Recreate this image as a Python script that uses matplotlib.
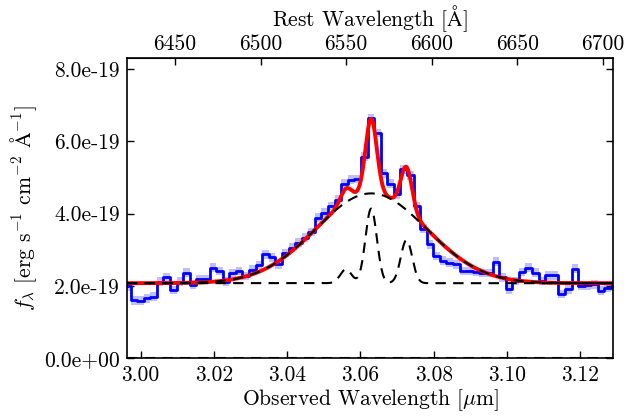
import numpy as np
import matplotlib
matplotlib.use("Agg")
import matplotlib.pyplot as plt
from matplotlib.ticker import FormatStrFormatter

plt.rcParams.update({
    "font.family": "serif",
    "font.serif": ["cmr10"],
    "mathtext.fontset": "cm",
    "axes.unicode_minus": False,
    "axes.formatter.use_mathtext": True,
    "font.size": 15.5,
})

# redshift (1+z) from the two wavelength axes
zred = 3.6658

# observed spectrum, bin centres in micron, flux in 1e-19 erg/s/cm2/A
wave = [2.99637, 2.99817, 2.99996, 3.00176, 3.00355, 3.00535, 3.00715, 3.00894,
        3.01074, 3.01253, 3.01433, 3.01613, 3.01792, 3.01972, 3.02151, 3.02331,
        3.02510, 3.02690, 3.02870, 3.03049, 3.03229, 3.03408, 3.03588, 3.03768,
        3.03947, 3.04127, 3.04306, 3.04486, 3.04666, 3.04845, 3.05025, 3.05204,
        3.05384, 3.05563, 3.05743, 3.05923, 3.06102, 3.06282, 3.06461, 3.06641,
        3.06821, 3.07000, 3.07180, 3.07359, 3.07539, 3.07719, 3.07898, 3.08078,
        3.08257, 3.08437, 3.08616, 3.08796, 3.08976, 3.09155, 3.09335, 3.09514,
        3.09694, 3.09874, 3.10053, 3.10233, 3.10412, 3.10592, 3.10772, 3.10951,
        3.11131, 3.11310, 3.11490, 3.11669, 3.11849, 3.12029, 3.12208, 3.12388,
        3.12567, 3.12747, 3.12927]
flux = [1.99, 1.61, 1.60, 1.66, 1.71, 2.12, 2.24, 1.89, 2.12, 2.37, 2.04, 2.19,
        2.19, 2.51, 2.42, 2.12, 2.36, 2.42, 2.28, 2.45, 2.58, 2.88, 2.79, 2.60,
        2.91, 3.06, 3.20, 3.34, 3.49, 3.89, 4.03, 4.21, 4.39, 4.83, 4.94, 4.96,
        5.57, 6.64, 6.23, 5.11, 4.83, 4.53, 5.22, 5.06, 4.21, 3.59, 3.15, 2.83,
        2.70, 2.65, 2.60, 2.42, 2.42, 2.39, 2.36, 2.36, 2.67, 2.24, 1.91, 2.14,
        2.39, 2.51, 2.37, 2.14, 2.30, 2.30, 1.78, 1.91, 2.48, 2.01, 2.02, 2.05,
        1.87, 1.96, 1.99]
flux_err = 0.12

# fitted model: continuum, broad Halpha, narrow [NII]6550, Halpha, [NII]6585
cont_level = 2.08
broad_center = 6564.61   # rest frame, A
broad_amp = 2.48
broad_sigma = 32.3
narrow_centers = [6549.86, 6564.61, 6585.27]
narrow_amps = [0.38, 2.06, 1.19]
narrow_sigma = 3.32

scale = 1e-19
wave = np.array(wave)
flux = np.array(flux) * scale

# model on a fine grid (rest frame)
lam_rest = np.linspace(6400, 6720, 2000)
lam_obs = lam_rest * (1 + zred) / 1e4
broad = broad_amp * np.exp(-0.5 * ((lam_rest - broad_center) / broad_sigma) ** 2)
narrow = np.zeros_like(lam_rest)
for c, a in zip(narrow_centers, narrow_amps):
    narrow += a * np.exp(-0.5 * ((lam_rest - c) / narrow_sigma) ** 2)
total = (cont_level + broad + narrow) * scale
cont_broad = (cont_level + broad) * scale
cont_narrow = (cont_level + narrow) * scale

fig, ax = plt.subplots(figsize=(6.36, 4.17), dpi=100)
fig.subplots_adjust(left=0.1997, right=0.9638, bottom=0.1403, top=0.861)

ax.fill_between(wave, flux - flux_err * scale, flux + flux_err * scale,
                step="mid", color="blue", alpha=0.25, lw=0)
ax.step(wave, flux, where="mid", color="blue", lw=2.0)
ax.plot(lam_obs, total, color="red", lw=2.8)
dash = (5, 3.5)
ax.plot(lam_obs, cont_broad, color="black", ls="--", dashes=dash, lw=1.5)
ax.plot(lam_obs, cont_narrow, color="black", ls="--", dashes=dash, lw=1.5)
ax.axhline(0, color="black", ls="--", dashes=dash, lw=1.5)

ax.set_xlim(2.9963, 3.1289)
ax.set_ylim(0, 8.3e-19)
ax.set_xticks([3.00, 3.02, 3.04, 3.06, 3.08, 3.10, 3.12])
ax.xaxis.set_major_formatter(FormatStrFormatter("%.2f"))
ax.set_yticks([0, 2e-19, 4e-19, 6e-19, 8e-19])
ax.yaxis.set_major_formatter(FormatStrFormatter("%.1e"))
ax.tick_params(direction="in", length=5, width=1, right=True, pad=5)
for s in ax.spines.values():
    s.set_linewidth(1.2)

ax.set_xlabel(r"Observed Wavelength [$\mu$m]", labelpad=2)
ax.set_ylabel(r"$f_\lambda$ [erg s$^{-1}$ cm$^{-2}$ $\mathrm{\AA}^{-1}$]")

secax = ax.secondary_xaxis("top", functions=(lambda x: x * 1e4 / (1 + zred),
                                              lambda x: x * (1 + zred) / 1e4))
secax.set_xticks([6450, 6500, 6550, 6600, 6650, 6700])
secax.xaxis.set_major_formatter(FormatStrFormatter("%d"))
secax.tick_params(direction="in", length=5, width=1, pad=3)
secax.set_xlabel(r"Rest Wavelength [$\mathrm{\AA}$]", labelpad=6)

fig.savefig("out.png", dpi=100)
